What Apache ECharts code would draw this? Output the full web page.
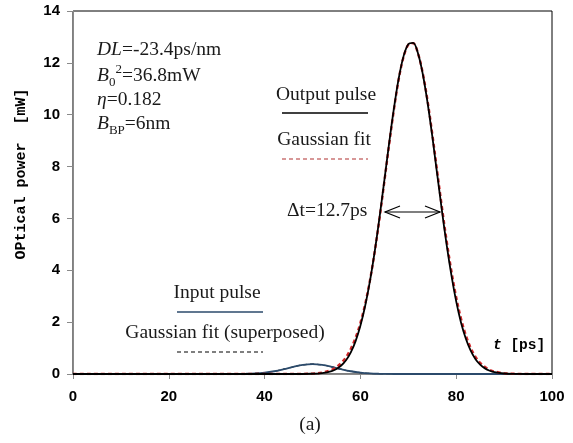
<!DOCTYPE html>
<html>
<head>
<meta charset="utf-8">
<script src="https://cdn.jsdelivr.net/npm/echarts@6/dist/echarts.min.js"></script>
<style>
html,body{margin:0;padding:0;background:#fff;}
#chart{width:573px;height:443px;}
</style>
</head>
<body>
<div id="chart"></div>
<script>
// ---- Data ----
var xTicks = [0, 20, 40, 60, 80, 100];
var yTicks = [0, 2, 4, 6, 8, 10, 12, 14];

var tOutput = [0, 45, 50, 52, 54, 55, 56, 57, 58, 59, 60, 61, 62, 63, 64, 65, 66, 67, 68, 69, 70, 71, 72, 73, 74, 75, 76, 77, 78, 79, 80, 81, 82, 83, 84, 85, 86, 87, 88, 90, 92, 95, 100];
var outputPulse = [0, 0, 0.009, 0.033, 0.112, 0.195, 0.328, 0.532, 0.836, 1.27, 1.86, 2.63, 3.59, 4.74, 6.05, 7.47, 8.90, 10.24, 11.40, 12.25, 12.72, 12.77, 12.38, 11.59, 10.49, 9.18, 7.75, 6.33, 4.99, 3.81, 2.80, 1.99, 1.37, 0.91, 0.58, 0.36, 0.217, 0.126, 0.070, 0.020, 0.005, 0, 0];
var outputFit = [0, 0, 0.015, 0.055, 0.16, 0.27, 0.43, 0.65, 0.97, 1.40, 1.97, 2.70, 3.62, 4.73, 6.01, 7.42, 8.85, 10.20, 11.37, 12.22, 12.70, 12.76, 12.38, 11.62, 10.56, 9.27, 7.86, 6.46, 5.14, 3.97, 2.96, 2.14, 1.50, 1.02, 0.67, 0.43, 0.27, 0.16, 0.095, 0.03, 0.008, 0, 0];

var tInput = [0, 32, 34, 36, 38, 40, 42, 44, 46, 48, 50, 52, 54, 56, 58, 60, 62, 64, 66, 68, 70, 100];
var inputPulse = [0, 0, 0.002, 0.008, 0.021, 0.051, 0.106, 0.185, 0.276, 0.351, 0.38, 0.351, 0.276, 0.185, 0.106, 0.051, 0.021, 0.008, 0.002, 0, 0, 0];
var inputFit = [0, 0, 0.002, 0.008, 0.021, 0.051, 0.106, 0.185, 0.276, 0.351, 0.38, 0.351, 0.276, 0.185, 0.106, 0.051, 0.021, 0.008, 0.002, 0, 0, 0];

function pairs(xs, ys) { return xs.map(function (x, i) { return [x, ys[i]]; }); }

var serif = 'Liberation Serif';
var mono = 'Liberation Mono';
var txtColor = '#1a1a1a';
var fs = 19.5;

var chart = echarts.init(document.getElementById('chart'), null, {renderer: 'canvas'});

function lineSeries(name, data, color, width, dash, z) {
  return {
    name: name, type: 'line', data: data, showSymbol: false, smooth: 0.35,
    lineStyle: {color: color, width: width, type: dash || 'solid'}, z: z, animation: false
  };
}

var richMain = {
  i: {fontFamily: serif, fontStyle: 'italic', fontSize: fs, color: txtColor, lineHeight: 26, verticalAlign: 'middle'},
  n: {fontFamily: serif, fontSize: fs, color: txtColor, lineHeight: 26, verticalAlign: 'middle'},
  sub: {fontFamily: serif, fontSize: 13, color: txtColor, lineHeight: 16, verticalAlign: 'bottom'},
  sup: {fontFamily: serif, fontSize: 13, color: txtColor, lineHeight: 18, verticalAlign: 'top'}
};

function label(x, y, text, align) {
  return {type: 'text', x: x, y: y, z: 100, silent: true,
    style: {text: text, fontFamily: serif, fontSize: fs, fill: txtColor, align: align || 'center', verticalAlign: 'middle'}};
}
function richLabel(x, y, text) {
  return {type: 'text', x: x, y: y, z: 100, silent: true,
    style: {text: text, rich: richMain, align: 'left', verticalAlign: 'middle', fill: txtColor}};
}
function hline(x1, x2, y, color, width, dash) {
  return {type: 'line', z: 100, silent: true, shape: {x1: x1, y1: y, x2: x2, y2: y},
    style: {stroke: color, lineWidth: width, lineDash: dash || null}};
}

var option = {
  backgroundColor: '#fff',
  animation: false,
  grid: {left: 73, right: 21, top: 11, bottom: 69, show: true, borderColor: '#000', borderWidth: 1, backgroundColor: 'transparent'},
  xAxis: {
    type: 'value', min: xTicks[0], max: xTicks[xTicks.length - 1], interval: 20,
    axisLine: {show: true, lineStyle: {color: '#8a8a8a', width: 1}},
    axisTick: {show: true, length: 5, lineStyle: {color: '#8a8a8a'}},
    axisLabel: {color: '#000', fontFamily: 'Liberation Sans', fontWeight: 'bold', fontSize: 15, margin: 15},
    splitLine: {show: false}
  },
  yAxis: {
    type: 'value', min: yTicks[0], max: yTicks[yTicks.length - 1], interval: 2,
    axisLine: {show: true, lineStyle: {color: '#8a8a8a', width: 1}},
    axisTick: {show: true, length: 6, lineStyle: {color: '#8a8a8a'}},
    axisLabel: {color: '#000', fontFamily: 'Liberation Sans', fontWeight: 'bold', fontSize: 15, margin: 13},
    splitLine: {show: false}
  },
  series: [
    lineSeries('Gaussian fit (superposed)', pairs(tInput, inputFit), '#000', 1.2, [4, 3], 2),
    lineSeries('Input pulse', pairs(tInput, inputPulse), '#2b4a6b', 1.8, 'solid', 3),
    lineSeries('Gaussian fit', pairs(tOutput, outputFit), '#d0282a', 2.4, [4, 3], 4),
    lineSeries('Output pulse', pairs(tOutput, outputPulse), '#000', 1.8, 'solid', 5)
  ],
  graphic: [
    richLabel(97, 50, '{i|DL}{n|=-23.4ps/nm}'),
    richLabel(97, 76, '{i|B}{sub|0}{sup|2}{n|=36.8mW}'),
    richLabel(97, 100, '{i|η}{n|=0.182}'),
    richLabel(97, 124, '{i|B}{sub|BP}{n|=6nm}'),
    label(326, 95, 'Output pulse'),
    hline(282, 368, 113, '#000', 1.5),
    label(324, 140, 'Gaussian fit'),
    hline(282, 368, 159, '#b03030', 1.2, [4, 3]),
    label(287, 211, 'Δt=12.7ps', 'left'),
    hline(385, 440, 212, '#000', 1.2),
    {type: 'polyline', z: 100, silent: true, shape: {points: [[400, 206], [385, 212], [400, 218]]}, style: {stroke: '#000', lineWidth: 1.2, fill: null}},
    {type: 'polyline', z: 100, silent: true, shape: {points: [[425, 206], [440, 212], [425, 218]]}, style: {stroke: '#000', lineWidth: 1.2, fill: null}},
    label(217, 293, 'Input pulse'),
    hline(177, 263, 312, '#2b4a6b', 1.5),
    label(225, 333, 'Gaussian fit (superposed)'),
    hline(177, 263, 352, '#000', 1.2, [4, 3]),
    {type: 'text', x: 493, y: 345, z: 100, silent: true,
      style: {text: '{it|t}{b| [ps]}', verticalAlign: 'middle', align: 'left',
        rich: {it: {fontFamily: mono, fontWeight: 'bold', fontStyle: 'italic', fontSize: 14.5, fill: '#000'},
               b: {fontFamily: mono, fontWeight: 'bold', fontSize: 14.5, fill: '#000'}}}},
    {type: 'text', x: 21, y: 174, rotation: Math.PI / 2, z: 100, silent: true,
      style: {text: 'OPtical power  [mW]', fontFamily: mono, fontWeight: 'bold', fontSize: 15, fill: '#000', align: 'center', verticalAlign: 'middle'}},
    label(310, 425, '(a)')
  ]
};
chart.setOption(option);
</script>
</body>
</html>
